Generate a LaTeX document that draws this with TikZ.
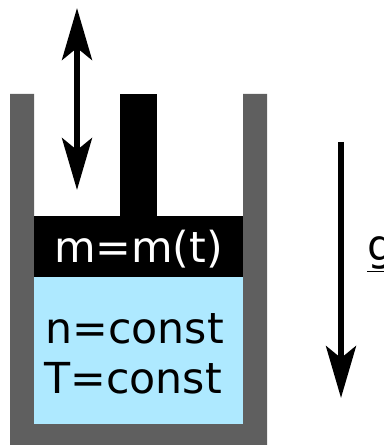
\documentclass[tikz,border=0pt]{standalone}
\usepackage{fontspec}
\setmainfont{DejaVu Sans}
\usetikzlibrary{arrows.meta, positioning}
\definecolor{wallgray}{HTML}{5F5F5F}
\definecolor{gasblue}{HTML}{AEE9FF}

\begin{document}
\begin{tikzpicture}[
  x=0.02cm, y=-0.02cm,
  label/.style={font=\fontsize{24.3pt}{28pt}\selectfont, anchor=base, inner sep=0pt},
  force/.style={{Stealth[length=29.5pt, width=17pt, inset=6.8pt]}-{Stealth[length=29.5pt, width=17pt, inset=6.8pt]}, line width=3.6pt},
  gravity/.style={-{Stealth[length=29.5pt, width=17pt, inset=6.8pt]}, line width=3.6pt}
]
\useasboundingbox (0,0) rectangle (383,445);

% vessel
\fill[wallgray] (10,94) -- (34,94) -- (34,424) -- (243,424) -- (243,94) -- (267,94) -- (267,445) -- (10,445) -- cycle;
\fill[gasblue] (34,277) rectangle (243,424);
% piston and rod
\fill[black] (34,216) rectangle (243,277);
\fill[black] (120,94) rectangle (157,216);

\node[label, text=white] (mass) at (138.5,262) {m=m(t)};
\node[label] (amount) at (134.5,343) {n=const};
\node[label] (temp) at (133,393) {T=const};
\node[label, anchor=base west] (g) at (367,260) {\underline{g}};

\coordinate (up) at (77,8);
\coordinate (down) at (77,190);
\coordinate (top) at (341,142);
\coordinate (bottom) at (341,398);

\draw[force] (up) -- (down);
\draw[gravity] (top) -- (bottom);
\end{tikzpicture}
\end{document}
